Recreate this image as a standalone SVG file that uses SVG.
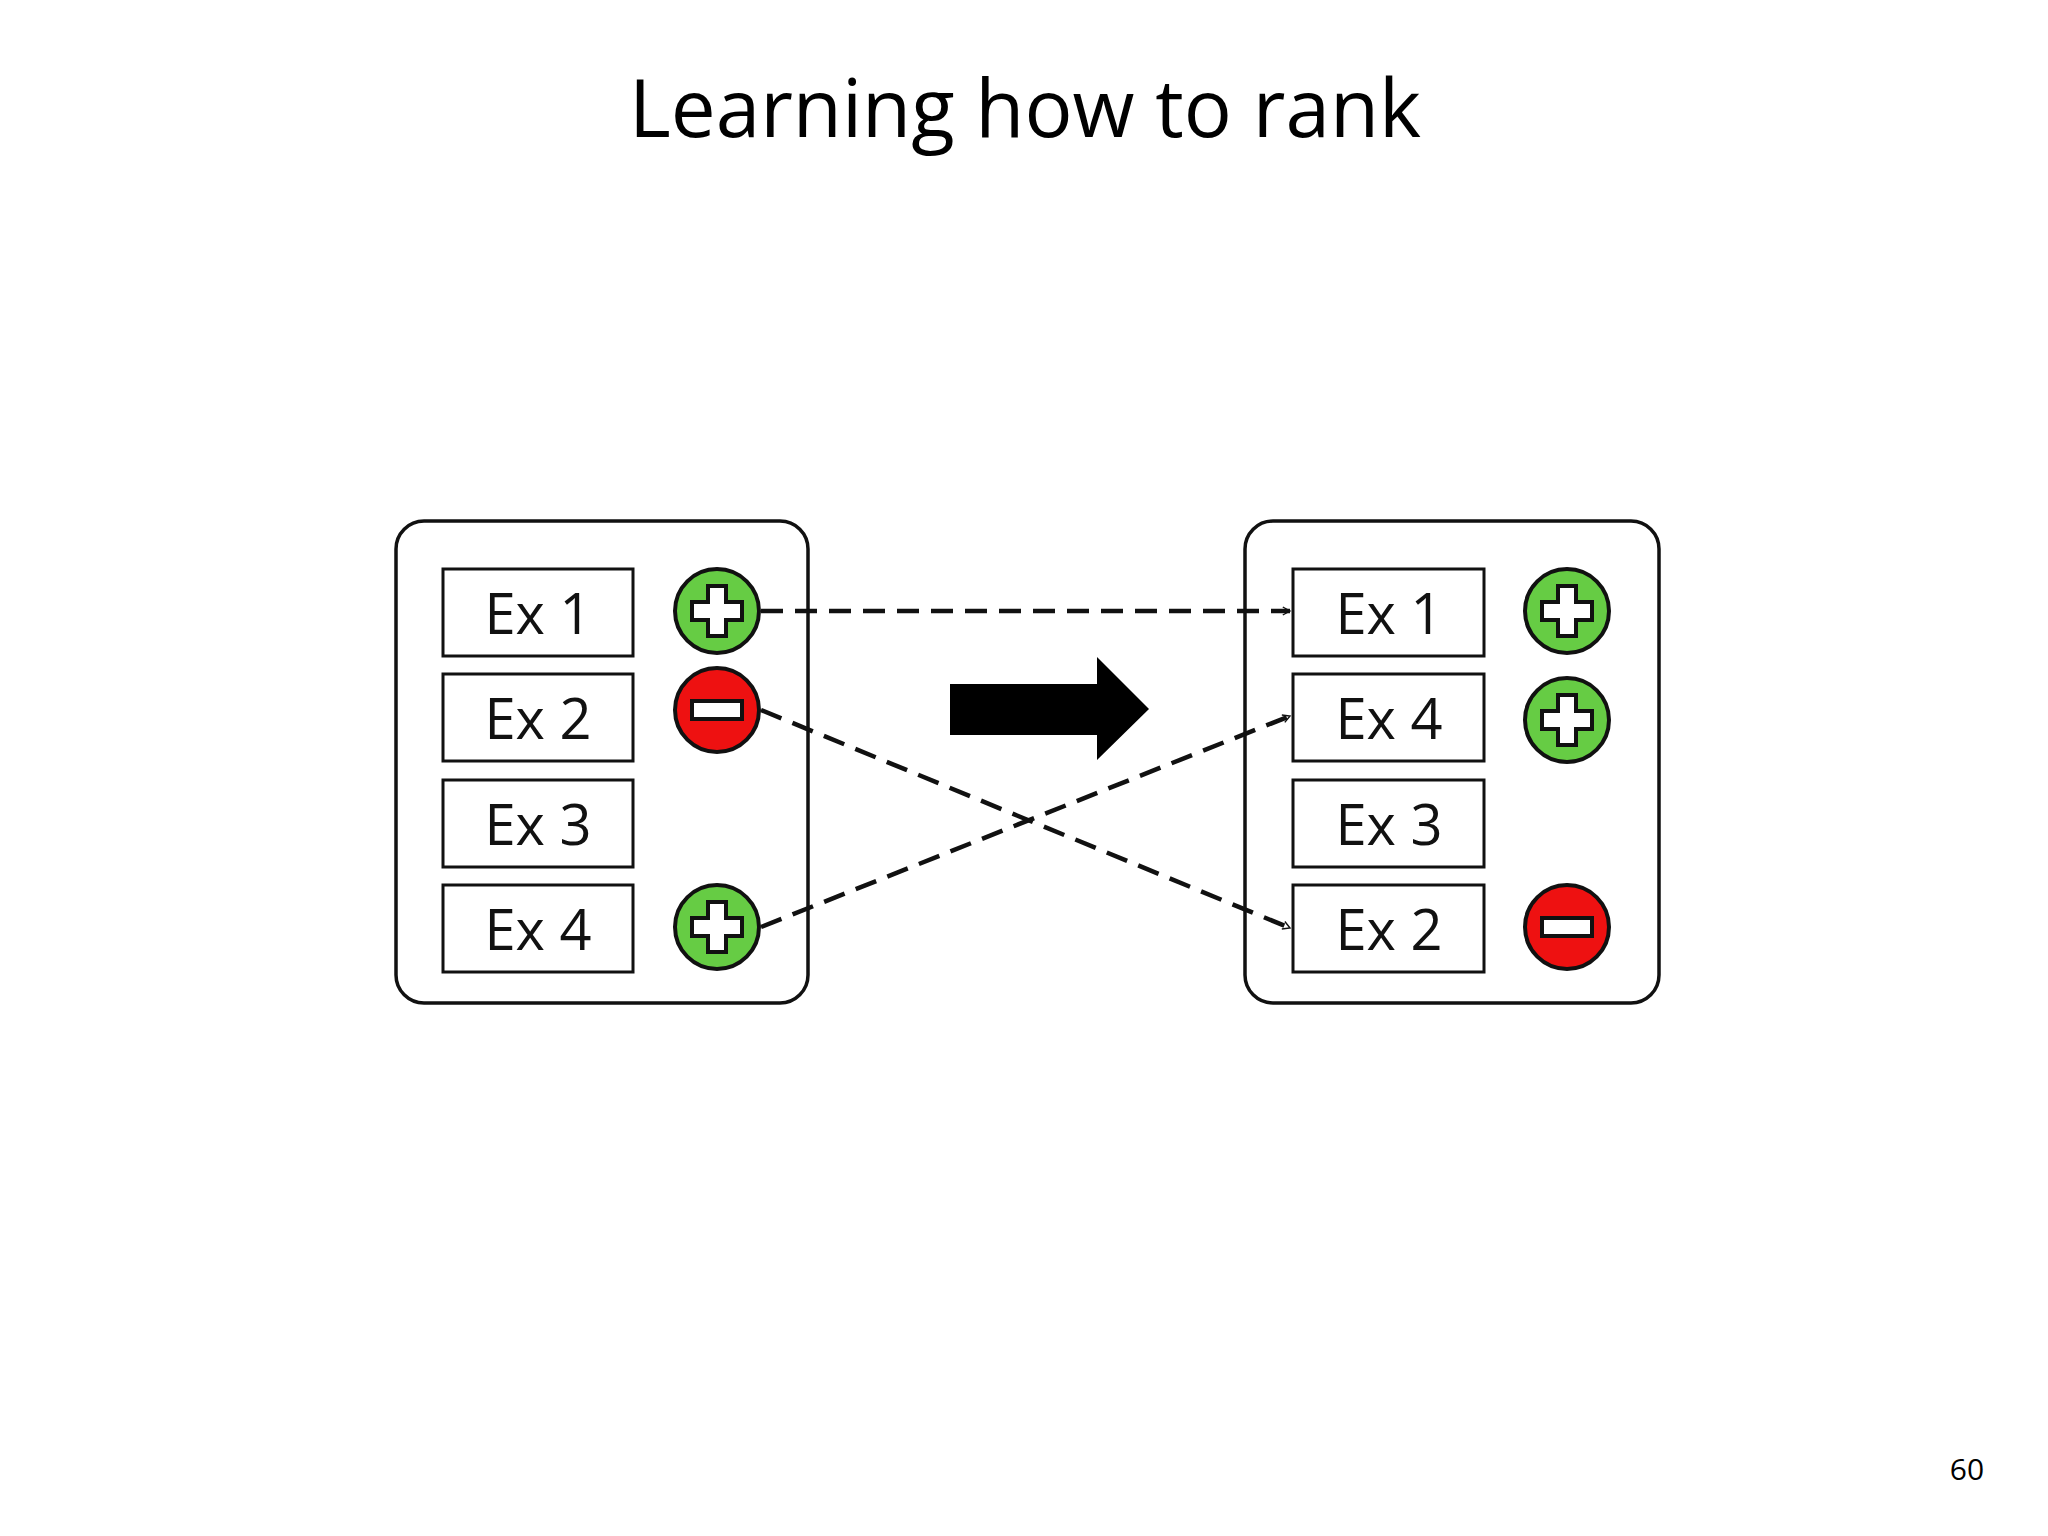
<svg xmlns="http://www.w3.org/2000/svg" width="2048" height="1536" viewBox="0 0 2048 1536">
<defs>
<style>
.c{fill:#fff;stroke:#111;stroke-width:3.5}
.b{fill:#fff;stroke:#111;stroke-width:3}
.t{font-family:"Open Sans","Liberation Sans",sans-serif;font-size:56px;fill:#111;text-anchor:middle}
.p{fill:#66cc44;stroke:#111;stroke-width:4}
.m{fill:#ee1111;stroke:#111;stroke-width:4}
.w{fill:#fff;stroke:#111;stroke-width:4}
.d{fill:none;stroke:#111;stroke-width:4.5;stroke-dasharray:22 12}
</style>
<g id="plus"><circle class="p" r="42"/><path class="w" d="M-9,-25H9V-9H25V9H9V25H-9V9H-25V-9H-9Z"/></g>
<g id="minus"><circle class="m" r="42"/><rect class="w" x="-25" y="-9" width="50" height="18"/></g>
<marker id="a" viewBox="0 0 20 20" refX="18" refY="10" markerWidth="8" markerHeight="8" markerUnits="userSpaceOnUse" orient="auto" overflow="visible"><path d="M0,0L18,10L0,20" fill="none" stroke="#111" stroke-width="3.5"/></marker>
</defs>
<rect width="2048" height="1536" fill="#fff"/>
<text x="1025" y="137" font-family="Open Sans,Liberation Sans,sans-serif" font-size="80" text-anchor="middle" fill="#000">Learning how to rank</text>
<text x="1967" y="1480" font-family="Open Sans,Liberation Sans,sans-serif" font-size="30" text-anchor="middle" fill="#000">60</text>
<g id="left"><rect class="c" x="396" y="521" width="412" height="482" rx="28"/>
<rect class="b" x="443" y="569" width="190" height="87"/><text class="t" x="538" y="634">Ex 1</text>
<rect class="b" x="443" y="674" width="190" height="87"/><text class="t" x="538" y="739">Ex 2</text>
<rect class="b" x="443" y="780" width="190" height="87"/><text class="t" x="538" y="845">Ex 3</text>
<rect class="b" x="443" y="885" width="190" height="87"/><text class="t" x="538" y="950">Ex 4</text>
<use href="#plus" x="717" y="611"/><use href="#minus" x="717" y="710"/><use href="#plus" x="717" y="927"/></g>
<g id="right"><rect class="c" x="1245" y="521" width="414" height="482" rx="28"/>
<rect class="b" x="1293" y="569" width="191" height="87"/><text class="t" x="1389" y="634">Ex 1</text>
<rect class="b" x="1293" y="674" width="191" height="87"/><text class="t" x="1389" y="739">Ex 4</text>
<rect class="b" x="1293" y="780" width="191" height="87"/><text class="t" x="1389" y="845">Ex 3</text>
<rect class="b" x="1293" y="885" width="191" height="87"/><text class="t" x="1389" y="950">Ex 2</text>
<use href="#plus" x="1567" y="611"/><use href="#plus" x="1567" y="720"/><use href="#minus" x="1567" y="927"/></g>
<g id="arrow"><path d="M950,684H1097V657L1149,709L1097,760V735H950Z" fill="#000"/></g>
<g id="connectors">
<line class="d" x1="761" y1="611" x2="1290" y2="611" marker-end="url(#a)"/>
<line class="d" x1="761" y1="710" x2="1290" y2="928" marker-end="url(#a)"/>
<line class="d" x1="761" y1="927" x2="1290" y2="716" marker-end="url(#a)"/>
</g>
</svg>
